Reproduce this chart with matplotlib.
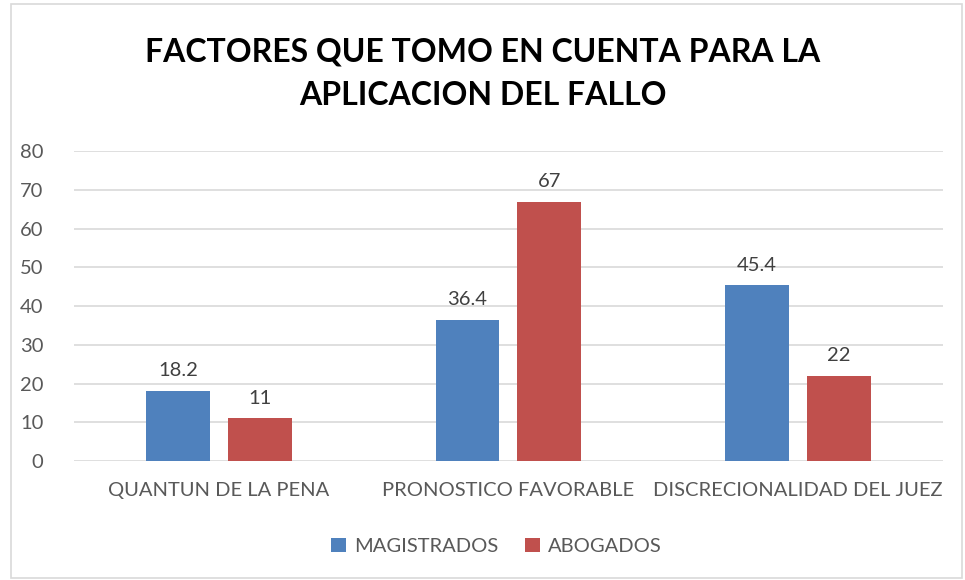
import numpy as np
import matplotlib.pyplot as plt
from matplotlib.patches import Rectangle

categories = ['QUANTUN DE LA PENA', 'PRONOSTICO FAVORABLE', 'DISCRECIONALIDAD DEL JUEZ']
magistrados = [18.2, 36.4, 45.4]
abogados = [11, 67, 22]
mag_labels = ['18.2', '36.4', '45.4']
abo_labels = ['11', '67', '22']

plt.rcParams['font.family'] = ['Lato', 'DejaVu Sans']
gris = '#595959'
azul = '#4F81BD'
rojo = '#C0504D'

fig = plt.figure(figsize=(9.65, 5.8), dpi=100)
ax = fig.add_axes([0.0767, 0.205, 0.9003, 0.5343])

x = np.arange(len(categories))
w = 0.22
off = 0.141
b1 = ax.bar(x - off, magistrados, w, color=azul, label='MAGISTRADOS')
b2 = ax.bar(x + off, abogados, w, color=rojo, label='ABOGADOS')

for bars, labs in ((b1, mag_labels), (b2, abo_labels)):
    for b, t in zip(bars, labs):
        ax.text(b.get_x() + b.get_width() / 2, b.get_height() + 3.0, t,
                ha='center', va='bottom', fontsize=14.5, color='#404040')

ax.set_xlim(-0.5, 2.5)
ax.set_ylim(0, 80)
ax.set_yticks(range(0, 81, 10))
ax.set_xticks(x)
ax.set_xticklabels(categories)
ax.tick_params(axis='both', length=0, labelsize=14.5, labelcolor=gris)
ax.tick_params(axis='x', pad=15)
ax.tick_params(axis='y', pad=22)
ax.yaxis.grid(True, color='#D9D9D9', linewidth=1.2)
ax.set_axisbelow(True)
for s in ax.spines.values():
    s.set_visible(False)

fig.text(0.5, 0.91, 'FACTORES QUE TOMO EN CUENTA PARA LA', ha='center', va='center',
         fontsize=23, fontweight='bold', color='black')
fig.text(0.5, 0.835, 'APLICACION DEL FALLO', ha='center', va='center',
         fontsize=23, fontweight='bold', color='black')

leg = fig.legend(loc='center', bbox_to_anchor=(0.5145, 0.058), ncol=2, frameon=False,
                 fontsize=14.5, handlelength=0.75, handleheight=0.75, handletextpad=0.4,
                 columnspacing=1.3)
for t in leg.get_texts():
    t.set_color(gris)

fig.patches.append(Rectangle((0.011, 0.003), 0.986, 0.99, transform=fig.transFigure,
                             fill=False, edgecolor='#D9D9D9', linewidth=1.2))

fig.savefig('out.png', dpi=100)
